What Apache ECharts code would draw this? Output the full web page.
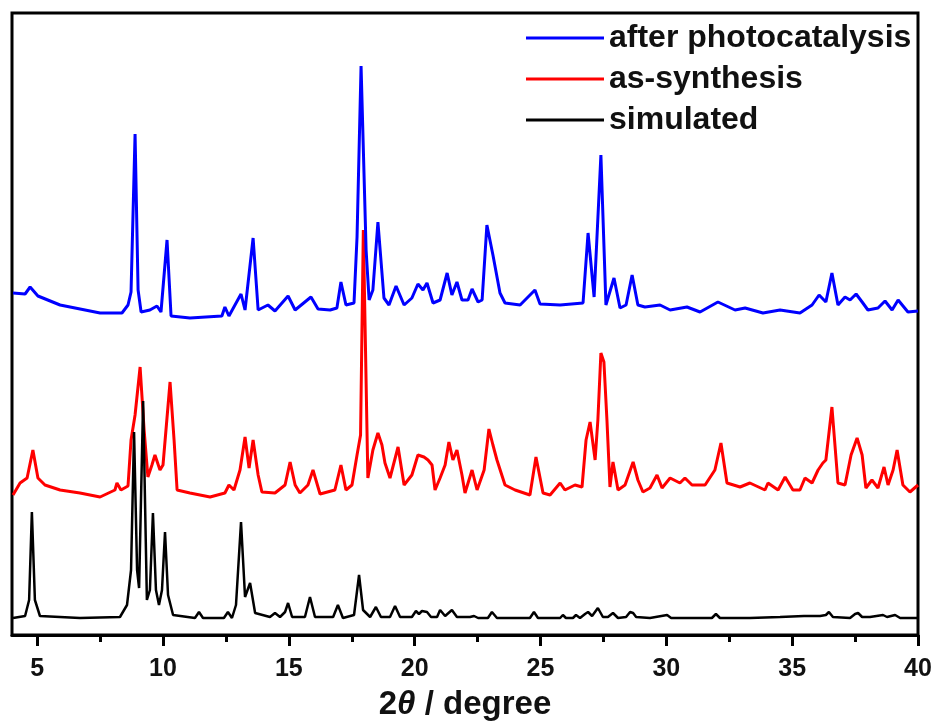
<!DOCTYPE html>
<html><head><meta charset="utf-8">
<script src="https://cdn.jsdelivr.net/npm/echarts@6/dist/echarts.min.js"></script>
<style>html,body{margin:0;padding:0;background:#fff}#c{width:938px;height:727px}</style>
</head><body><div id="c"></div>
<script>
// x-axis tick values (2θ, degree)
const xMajorTicks = [5, 10, 15, 20, 25, 30, 35, 40];
const xMinorTicks = [7.5, 12.5, 17.5, 22.5, 27.5, 32.5, 37.5];
const seriesNames = ['after photocatalysis', 'as-synthesis', 'simulated'];

// [2θ, intensity (offset, arb. units)]
const afterPhotocatalysis = [[4.04,342],[4.52,341],[4.72,348],[5.03,339],[5.91,330],[7.50,322],[8.37,322],[8.61,330],[8.73,343],[8.89,501],[9.01,345],[9.13,323],[9.48,325],[9.76,329],[9.92,323],[10.16,395],[10.32,319],[11.07,317],[12.34,319],[12.46,328],[12.62,319],[13.10,341],[13.26,325],[13.58,397],[13.78,325],[14.17,330],[14.45,324],[14.97,339],[15.25,325],[15.88,338],[16.16,326],[16.64,325],[16.91,327],[17.07,353],[17.27,330],[17.59,332],[17.71,398],[17.87,569],[18.07,385],[18.19,335],[18.34,345],[18.54,413],[18.78,337],[18.98,330],[19.26,349],[19.58,330],[19.89,337],[20.13,351],[20.33,345],[20.49,352],[20.73,332],[21.01,335],[21.29,362],[21.48,340],[21.68,353],[21.88,335],[22.12,335],[22.28,346],[22.52,333],[22.68,335],[22.87,410],[23.11,380],[23.39,342],[23.59,332],[24.19,330],[24.78,345],[24.98,331],[25.78,330],[26.69,332],[26.89,402],[27.13,338],[27.40,480],[27.60,330],[27.92,357],[28.16,327],[28.40,330],[28.64,360],[28.87,330],[29.15,328],[29.75,330],[30.15,325],[30.82,328],[31.34,323],[32.05,333],[32.73,325],[33.13,327],[33.84,322],[34.52,325],[35.31,322],[35.79,330],[36.07,340],[36.34,333],[36.58,362],[36.82,330],[37.10,338],[37.30,335],[37.54,341],[37.78,333],[38.01,325],[38.41,327],[38.69,334],[38.97,325],[39.21,335],[39.60,323],[40.00,324]];

const asSynthesis = [[4.04,140],[4.32,152],[4.60,157],[4.83,185],[5.03,157],[5.31,150],[5.91,145],[6.70,142],[7.50,138],[8.09,145],[8.17,152],[8.33,145],[8.61,149],[8.73,195],[8.89,220],[9.09,268],[9.25,205],[9.40,158],[9.56,170],[9.68,180],[9.88,165],[10.00,170],[10.28,253],[10.44,195],[10.56,145],[11.07,142],[11.87,138],[12.46,142],[12.62,150],[12.82,145],[13.06,165],[13.26,198],[13.42,167],[13.58,195],[13.78,160],[13.93,143],[14.45,142],[14.85,150],[15.05,173],[15.25,150],[15.44,142],[15.76,150],[15.96,165],[16.24,141],[16.83,145],[17.07,170],[17.27,145],[17.51,150],[17.71,180],[17.85,200],[17.96,405],[18.14,157],[18.34,185],[18.54,202],[18.70,190],[18.82,172],[19.02,157],[19.34,188],[19.58,150],[19.89,160],[20.13,180],[20.37,178],[20.53,175],[20.69,170],[20.81,145],[21.01,157],[21.21,170],[21.36,193],[21.52,175],[21.68,185],[21.88,160],[22.00,142],[22.28,165],[22.48,145],[22.76,165],[22.95,206],[23.11,190],[23.27,175],[23.59,150],[23.99,145],[24.58,140],[24.82,178],[25.10,142],[25.38,140],[25.78,152],[25.97,145],[26.37,150],[26.65,148],[26.81,195],[26.97,213],[27.17,175],[27.28,215],[27.40,282],[27.52,273],[27.64,215],[27.76,148],[27.88,173],[28.08,145],[28.36,150],[28.68,173],[28.87,155],[29.07,143],[29.35,147],[29.63,160],[29.83,147],[30.15,157],[30.54,152],[30.74,157],[31.02,150],[31.54,150],[31.93,165],[32.17,192],[32.41,152],[32.93,148],[33.32,152],[33.92,145],[34.04,152],[34.44,145],[34.72,158],[35.03,145],[35.31,145],[35.51,157],[35.79,152],[36.03,165],[36.22,172],[36.34,175],[36.58,228],[36.82,152],[37.10,150],[37.34,180],[37.58,197],[37.78,180],[37.93,147],[38.17,155],[38.41,147],[38.65,168],[38.81,150],[39.01,165],[39.17,185],[39.40,150],[39.68,143],[40.00,150]];

const simulated = [[4.04,17],[4.52,19],[4.68,35],[4.79,123],[4.91,35],[5.11,19],[6.70,17],[8.29,18],[8.57,30],[8.73,65],[8.85,203],[8.97,65],[9.05,47],[9.21,234],[9.36,35],[9.48,45],[9.60,122],[9.72,45],[9.84,30],[9.96,45],[10.08,103],[10.20,40],[10.40,20],[11.27,17],[11.43,23],[11.59,17],[12.42,17],[12.58,23],[12.74,17],[12.90,30],[13.10,113],[13.26,38],[13.46,52],[13.66,22],[14.25,18],[14.45,22],[14.65,18],[14.85,23],[14.97,32],[15.13,18],[15.64,18],[15.84,38],[16.04,18],[16.76,18],[16.95,30],[17.15,17],[17.59,20],[17.79,60],[17.95,25],[18.23,18],[18.46,28],[18.66,18],[19.02,18],[19.22,29],[19.42,18],[19.89,18],[20.05,24],[20.17,21],[20.29,24],[20.49,23],[20.65,18],[20.89,18],[21.01,25],[21.21,19],[21.48,25],[21.68,18],[22.20,18],[22.36,19],[22.52,17],[22.91,17],[23.07,23],[23.27,17],[24.58,17],[24.74,23],[24.90,17],[25.78,17],[25.89,20],[26.01,17],[26.29,17],[26.41,20],[26.57,17],[26.77,21],[26.89,23],[27.05,19],[27.28,27],[27.48,18],[27.68,18],[27.88,22],[28.08,17],[28.40,18],[28.56,23],[28.68,22],[28.80,18],[29.35,17],[30.03,20],[30.19,17],[31.34,17],[31.81,17],[31.97,21],[32.13,17],[33.32,17],[34.52,18],[35.47,19],[36.11,19],[36.34,20],[36.46,23],[36.62,18],[37.30,17],[37.50,21],[37.62,22],[37.78,18],[38.09,18],[38.61,20],[38.77,18],[39.09,20],[39.29,17],[40.00,17]];

const FONT = '"Liberation Sans", Arial, sans-serif';
const chart = echarts.init(document.getElementById('c'), null, {renderer: 'canvas'});

function legendFor(name, top) {
  return {
    data: [{name: name, icon: 'rect'}], left: 521, top: top, orient: 'vertical',
    itemWidth: 78, itemHeight: 3, selectedMode: false,
    textStyle: {fontFamily: FONT, fontWeight: 'bold', fontSize: 32, color: '#111', lineHeight: 34}
  };
}

chart.setOption({
  animation: false,
  backgroundColor: '#fff',
  grid: [
    {left: 12, right: 20, top: 13, bottom: 92, show: true, borderColor: '#000', borderWidth: 3, backgroundColor: 'transparent'},
    {left: 12, right: 20, top: 13, bottom: 92, show: false}
  ],
  legend: [legendFor(seriesNames[0], 16), legendFor(seriesNames[1], 57), legendFor(seriesNames[2], 98)],
  xAxis: [
    {
      type: 'value', gridIndex: 0, min: 4, max: 40, position: 'bottom',
      axisLine: {show: true, onZero: false, lineStyle: {color: '#000', width: 3}},
      axisTick: {show: true, customValues: xMajorTicks, length: 11, inside: false, lineStyle: {color: '#000', width: 3}},
      axisLabel: {show: true, customValues: xMajorTicks, margin: 22, fontFamily: FONT, fontWeight: 'bold', fontSize: 25, color: '#111'},
      splitLine: {show: false},
      name: '{a|2}{b|θ}{a| / degree}', nameLocation: 'middle', nameGap: 53,
      nameTextStyle: {
        rich: {
          a: {fontFamily: FONT, fontWeight: 'bold', fontSize: 33, color: '#111'},
          b: {fontFamily: FONT, fontWeight: 'bold', fontStyle: 'italic', fontSize: 33, color: '#111'}
        }
      }
    },
    {
      type: 'value', gridIndex: 1, min: 4, max: 40, position: 'bottom',
      axisLine: {show: false},
      axisTick: {show: true, customValues: xMinorTicks, length: 7, lineStyle: {color: '#000', width: 3}},
      axisLabel: {show: false},
      splitLine: {show: false}
    }
  ],
  yAxis: [
    {type: 'value', gridIndex: 0, min: 0, max: 622, show: false, splitLine: {show: false}},
    {type: 'value', gridIndex: 1, min: 0, max: 622, show: false, splitLine: {show: false}}
  ],
  series: [
    {name: seriesNames[1], type: 'line', z: 2, data: asSynthesis, symbol: 'none', lineStyle: {color: '#ff0000', width: 3}, itemStyle: {color: '#ff0000'}},
    {name: seriesNames[0], type: 'line', z: 3, data: afterPhotocatalysis, symbol: 'none', lineStyle: {color: '#0000ff', width: 3}, itemStyle: {color: '#0000ff'}},
    {name: seriesNames[2], type: 'line', z: 4, data: simulated, symbol: 'none', lineStyle: {color: '#000000', width: 2.5}, itemStyle: {color: '#000000'}}
  ]
});
</script></body></html>
